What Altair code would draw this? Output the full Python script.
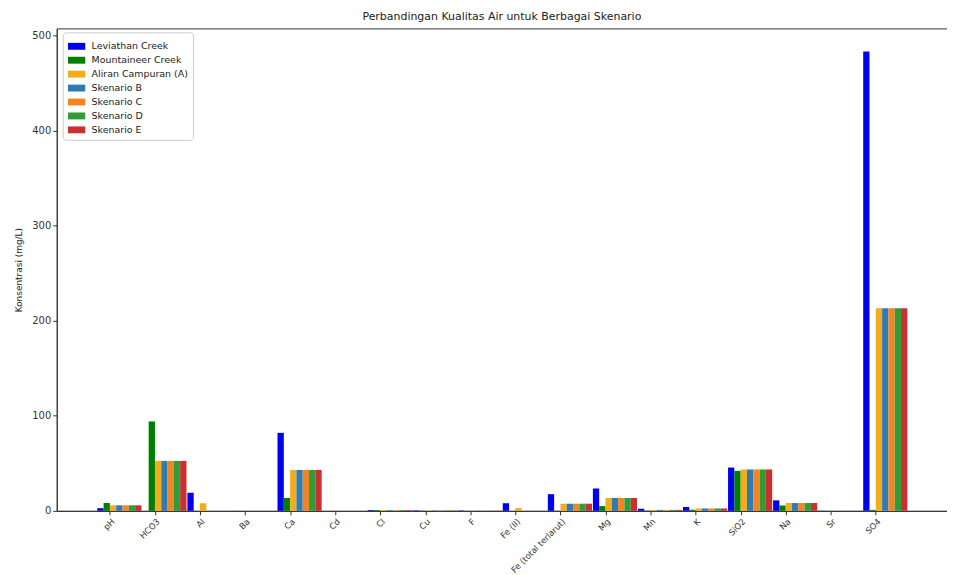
import altair as alt
import pandas as pd

categories = ["pH", "HCO3", "Al", "Ba", "Ca", "Cd", "Cl", "Cu", "F", "Fe (II)",
              "Fe (total terlarut)", "Mg", "Mn", "K", "SiO2", "Na", "Sr", "SO4"]

series_names = ["Leviathan Creek", "Mountaineer Creek", "Aliran Campuran (A)",
                "Skenario B", "Skenario C", "Skenario D", "Skenario E"]

leviathan = [2.8, 0.0, 19.0, 0.05, 82.0, 0.01, 0.8, 0.5, 0.4, 8.0, 17.5, 23.5, 2.2, 4.0, 45.5, 11.0, 0.2, 483.0]
mountaineer = [8.2, 94.0, 0.05, 0.02, 13.5, 0.0, 0.8, 0.3, 0.1, 0.0, 0.1, 5.0, 0.3, 1.2, 42.0, 5.6, 0.1, 1.0]
campuran_a = [5.8, 52.5, 8.0, 0.03, 43.0, 0.0, 0.8, 0.4, 0.2, 3.0, 7.5, 13.5, 1.0, 2.5, 43.5, 8.2, 0.1, 213.0]
skenario_b = [5.8, 52.5, 0.0, 0.03, 43.0, 0.0, 0.8, 0.4, 0.2, 0.0, 7.5, 13.5, 1.0, 2.5, 43.5, 8.2, 0.1, 213.0]
skenario_c = [5.8, 52.5, 0.0, 0.03, 43.0, 0.0, 0.8, 0.4, 0.2, 0.0, 7.5, 13.5, 1.0, 2.5, 43.5, 8.2, 0.1, 213.0]
skenario_d = [5.8, 52.5, 0.0, 0.03, 43.0, 0.0, 0.8, 0.4, 0.2, 0.0, 7.5, 13.5, 1.0, 2.5, 43.5, 8.2, 0.1, 213.0]
skenario_e = [5.8, 52.5, 0.0, 0.03, 43.0, 0.0, 0.8, 0.4, 0.2, 0.0, 7.5, 13.5, 1.0, 2.5, 43.5, 8.2, 0.1, 213.0]

colors = ["#0000f0", "#007f00", "#f2ac1c", "#2f7cb4", "#f28522", "#2f9c3a", "#cc2f2f"]

all_series = [leviathan, mountaineer, campuran_a, skenario_b, skenario_c, skenario_d, skenario_e]

rows = []
for si, (name, vals) in enumerate(zip(series_names, all_series)):
    for ci, (cat, v) in enumerate(zip(categories, vals)):
        rows.append({"Kategori": cat, "idx": ci, "Seri": name, "si": si, "Nilai": v})
df = pd.DataFrame(rows)

bar_w = 0.14
label_array = "[" + ",".join("'" + c + "'" for c in categories) + "]"
font = "DejaVu Sans"

chart = alt.Chart(df).transform_calculate(
    x0=f"datum.idx + (datum.si - 2) * {bar_w}",
    x1=f"datum.idx + (datum.si - 1) * {bar_w}",
    base="0",
).mark_bar().encode(
    x=alt.X("x0:Q",
            scale=alt.Scale(domain=[-1.18, 18.58], nice=False, zero=False),
            axis=alt.Axis(values=list(range(len(categories))),
                          labelExpr=f"{label_array}[datum.value]",
                          labelAngle=-45, labelAlign="right", labelBaseline="top",
                          labelOverlap=False,
                          labelFontSize=8.5, labelColor="#333333", labelPadding=2,
                          tickSize=4, tickColor="#333333", domainColor="#333333",
                          grid=False, title=None)),
    x2="x1:Q",
    y=alt.Y("Nilai:Q",
            scale=alt.Scale(domain=[0, 507.2], nice=False),
            axis=alt.Axis(values=[0, 100, 200, 300, 400, 500], grid=False,
                          title="Konsentrasi (mg/L)", titleFontSize=9, titleFontWeight="normal",
                          titleColor="#222222", titlePadding=8,
                          labelFontSize=10, labelColor="#333333", tickSize=4,
                          tickColor="#333333", domainColor="#333333")),
    y2="base:Q",
    color=alt.Color("Seri:N",
                    scale=alt.Scale(domain=series_names, range=colors),
                    legend=alt.Legend(title=None, orient="none", legendX=6, legendY=4,
                                      symbolType="M-1,-0.4L1,-0.4L1,0.4L-1,0.4Z",
                                      symbolSize=300, symbolStrokeWidth=0,
                                      labelFontSize=9.5, labelColor="#222222",
                                      rowPadding=0, padding=5, labelOffset=6,
                                      fillColor="white", strokeColor="#cccccc",
                                      cornerRadius=3)),
).properties(
    width=895,
    height=485,
    title=alt.Title("Perbandingan Kualitas Air untuk Berbagai Skenario",
                    fontSize=11, fontWeight="normal", color="#222222", offset=6),
    autosize=alt.AutoSizeParams(type="none"),
    padding={"left": 49, "top": 19, "right": 0, "bottom": 63},
).configure(
    font=font,
).configure_view(
    stroke="#333333", strokeWidth=1,
)

chart.save("out.html", embed_options={"renderer": "svg", "actions": False})
